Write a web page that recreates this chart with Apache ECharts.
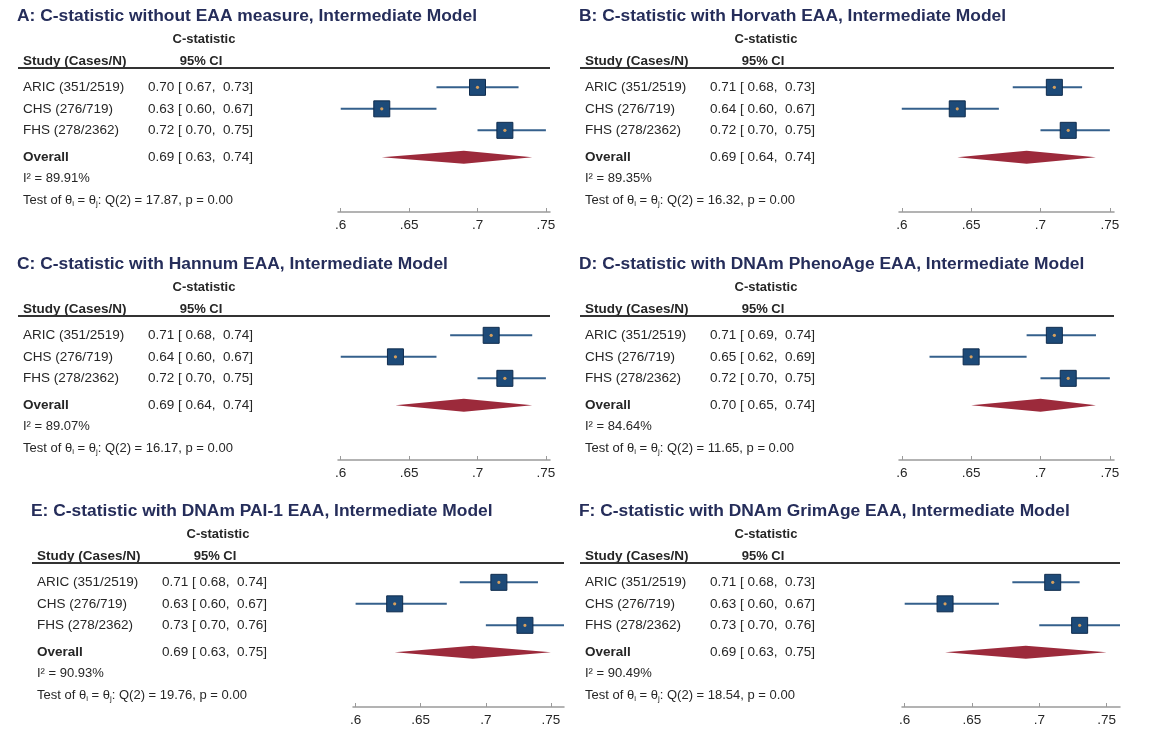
<!DOCTYPE html>
<html>
<head>
<meta charset="utf-8">
<script src="https://cdn.jsdelivr.net/npm/echarts@6/dist/echarts.min.js"></script>
<style>
  html, body { margin: 0; padding: 0; background: #ffffff; }
  #chart { width: 1159px; height: 750px; }
</style>
</head>
<body>
<div id="chart"></div>
<script>
// ---- data ----
const studyNames = ['ARIC (351/2519)', 'CHS (276/719)', 'FHS (278/2362)'];

const panelTitles = [
  'A: C-statistic without EAA measure, Intermediate Model',
  'B: C-statistic with Horvath EAA, Intermediate Model',
  'C: C-statistic with Hannum EAA, Intermediate Model',
  'D: C-statistic with DNAm PhenoAge EAA, Intermediate Model',
  'E: C-statistic with DNAm PAI-1 EAA, Intermediate Model',
  'F: C-statistic with DNAm GrimAge EAA, Intermediate Model'
];

// study estimates per panel: [ARIC, CHS, FHS]
const estA = [0.70, 0.63, 0.72], loA = [0.67, 0.60, 0.70], hiA = [0.73, 0.67, 0.75];
const estB = [0.71, 0.64, 0.72], loB = [0.68, 0.60, 0.70], hiB = [0.73, 0.67, 0.75];
const estC = [0.71, 0.64, 0.72], loC = [0.68, 0.60, 0.70], hiC = [0.74, 0.67, 0.75];
const estD = [0.71, 0.65, 0.72], loD = [0.69, 0.62, 0.70], hiD = [0.74, 0.69, 0.75];
const estE = [0.71, 0.63, 0.73], loE = [0.68, 0.60, 0.70], hiE = [0.74, 0.67, 0.76];
const estF = [0.71, 0.63, 0.73], loF = [0.68, 0.60, 0.70], hiF = [0.73, 0.67, 0.76];

// pooled estimates per panel A..F
const overallEst = [0.69, 0.69, 0.69, 0.70, 0.69, 0.69];
const overallLo  = [0.63, 0.64, 0.64, 0.65, 0.63, 0.63];
const overallHi  = [0.74, 0.74, 0.74, 0.74, 0.75, 0.75];
const iSquared   = ['89.91', '89.35', '89.07', '84.64', '90.93', '90.49'];
const qStat      = ['17.87', '16.32', '16.17', '11.65', '19.76', '18.54'];
const pValue     = ['0.00', '0.00', '0.00', '0.00', '0.00', '0.00'];

const tickValues = [0.6, 0.65, 0.7, 0.75];

// ---- layout ----
const FONT = '"Liberation Sans", Arial, Helvetica, sans-serif';
const TXT = '#262626';
const NAVY = '#252d5a';
const ROW_STUDY = [0.9, 1.9, 2.9];
const ROW_OVERALL = 4.15;

const panels = [
  { x0: 0,   y0: 0,   gl: 338, gr: 550,  min: 0.598, max: 0.753 },
  { x0: 562, y0: 0,   gl: 899, gr: 1114, min: 0.598, max: 0.753 },
  { x0: 0,   y0: 248, gl: 338, gr: 550,  min: 0.598, max: 0.753 },
  { x0: 562, y0: 248, gl: 899, gr: 1114, min: 0.598, max: 0.753 },
  { x0: 14,  y0: 495, gl: 353, gr: 564,  min: 0.598, max: 0.760 },
  { x0: 562, y0: 495, gl: 902, gr: 1120, min: 0.598, max: 0.760 }
];
const studyData = [
  [estA, loA, hiA], [estB, loB, hiB], [estC, loC, hiC],
  [estD, loD, hiD], [estE, loE, hiE], [estF, loF, hiF]
];

const fmt = v => v.toFixed(2);
const ciText = (e, l, h) => fmt(e) + ' [ ' + fmt(l) + ',  ' + fmt(h) + ']';

const grids = [], xAxes = [], yAxes = [], series = [], graphics = [];

panels.forEach((p, k) => {
  const top = p.y0 + 68;
  grids.push({ left: p.gl, top: top, width: p.gr - p.gl, height: 144 });
  xAxes.push({
    gridIndex: k, type: 'value', min: p.min, max: p.max, position: 'bottom',
    splitLine: { show: false },
    axisLine: { show: true, onZero: false, lineStyle: { color: '#9a9a9a', width: 1.5 } },
    axisTick: { show: true, inside: true, length: 4, customValues: tickValues,
                lineStyle: { color: '#9a9a9a', width: 1 } },
    axisLabel: { customValues: tickValues, color: TXT, fontFamily: FONT, fontSize: 13.5, margin: 6,
                 formatter: v => String(v).replace(/^0/, '') }
  });
  yAxes.push({ gridIndex: k, type: 'value', min: 0, max: 6.7, inverse: true, show: false });

  // title and column headers
  graphics.push(
    { type: 'text', left: p.x0 + 17, top: p.y0 + 8,
      style: { text: panelTitles[k], font: 'bold 17.4px ' + FONT, fill: NAVY } },
    { type: 'text', x: p.x0 + 204, y: p.y0 + 39,
      style: { text: 'C-statistic', font: 'bold 13px ' + FONT, fill: TXT, align: 'center', verticalAlign: 'middle' } },
    { type: 'text', x: p.x0 + 23, y: p.y0 + 61,
      style: { text: 'Study (Cases/N)', font: 'bold 13.5px ' + FONT, fill: TXT, align: 'left', verticalAlign: 'middle' } },
    { type: 'text', x: p.x0 + 201, y: p.y0 + 61,
      style: { text: '95% CI', font: 'bold 13px ' + FONT, fill: TXT, align: 'center', verticalAlign: 'middle' } },
    { type: 'line', shape: { x1: p.x0 + 18, y1: top, x2: p.gr, y2: top },
      style: { stroke: '#333333', lineWidth: 2 } }
  );

  const [est, lo, hi] = studyData[k];
  const tx = p.x0 + 23, vx = p.x0 + 148;

  series.push({
    type: 'custom', xAxisIndex: k, yAxisIndex: k, clip: false,
    encode: { x: [0, 1, 2], y: 3 },
    data: est.map((e, i) => [e, lo[i], hi[i], ROW_STUDY[i], i]),
    renderItem: (params, api) => {
      const i = api.value(4);
      const c = api.coord([api.value(0), api.value(3)]);
      const a = api.coord([api.value(1), api.value(3)]);
      const b = api.coord([api.value(2), api.value(3)]);
      const s = 16;
      return { type: 'group', children: [
        { type: 'line', shape: { x1: a[0], y1: a[1], x2: b[0], y2: b[1] },
          style: { stroke: '#35608c', lineWidth: 2 } },
        { type: 'rect', shape: { x: c[0] - s / 2, y: c[1] - s / 2, width: s, height: s },
          style: { fill: '#1d4a78', stroke: '#0f2c4e', lineWidth: 1 } },
        { type: 'circle', shape: { cx: c[0], cy: c[1], r: 1.6 }, style: { fill: '#d6a05e' } },
        { type: 'text', x: tx, y: c[1],
          style: { text: studyNames[i], font: '13.5px ' + FONT, fill: TXT, verticalAlign: 'middle' } },
        { type: 'text', x: vx, y: c[1],
          style: { text: ciText(est[i], lo[i], hi[i]), font: '13.5px ' + FONT, fill: TXT, verticalAlign: 'middle' } }
      ] };
    }
  });

  series.push({
    type: 'custom', xAxisIndex: k, yAxisIndex: k, clip: false,
    encode: { x: [0, 1, 2], y: 3 },
    data: [[overallEst[k], overallLo[k], overallHi[k], ROW_OVERALL]],
    renderItem: (params, api) => {
      const row = api.value(3);
      const c = api.coord([api.value(0), row]);
      const a = api.coord([api.value(1), row]);
      const b = api.coord([api.value(2), row]);
      const r2 = api.coord([api.value(0), row + 1]);
      const r3 = api.coord([api.value(0), row + 2]);
      const h = 6.5;
      return { type: 'group', children: [
        { type: 'polygon', shape: { points: [[a[0], c[1]], [c[0], c[1] - h], [b[0], c[1]], [c[0], c[1] + h]] },
          style: { fill: '#9c2a3b' } },
        { type: 'text', x: tx, y: c[1],
          style: { text: 'Overall', font: 'bold 13.5px ' + FONT, fill: TXT, verticalAlign: 'middle' } },
        { type: 'text', x: vx, y: c[1],
          style: { text: ciText(overallEst[k], overallLo[k], overallHi[k]), font: '13.5px ' + FONT, fill: TXT, verticalAlign: 'middle' } },
        { type: 'text', x: tx, y: r2[1],
          style: { text: 'I\u00b2 = ' + iSquared[k] + '%', font: '13px ' + FONT, fill: TXT, verticalAlign: 'middle' } },
        { type: 'text', x: tx, y: r3[1],
          style: {
            text: '{a|Test of \u03b8}{s|i}{a| = \u03b8}{s|j}{a|: Q(2) = ' + qStat[k] + ', p = ' + pValue[k] + '}',
            verticalAlign: 'middle', fill: TXT,
            rich: {
              a: { font: '13px ' + FONT, fill: TXT, lineHeight: 16 },
              s: { font: '8px ' + FONT, fill: TXT, lineHeight: 16, padding: [7, 0, 0, 0] }
            }
          } }
      ] };
    }
  });
});

const chart = echarts.init(document.getElementById('chart'), null, { renderer: 'canvas' });
chart.setOption({
  animation: false,
  backgroundColor: '#ffffff',
  grid: grids,
  xAxis: xAxes,
  yAxis: yAxes,
  series: series,
  graphic: graphics
});
</script>
</body>
</html>
